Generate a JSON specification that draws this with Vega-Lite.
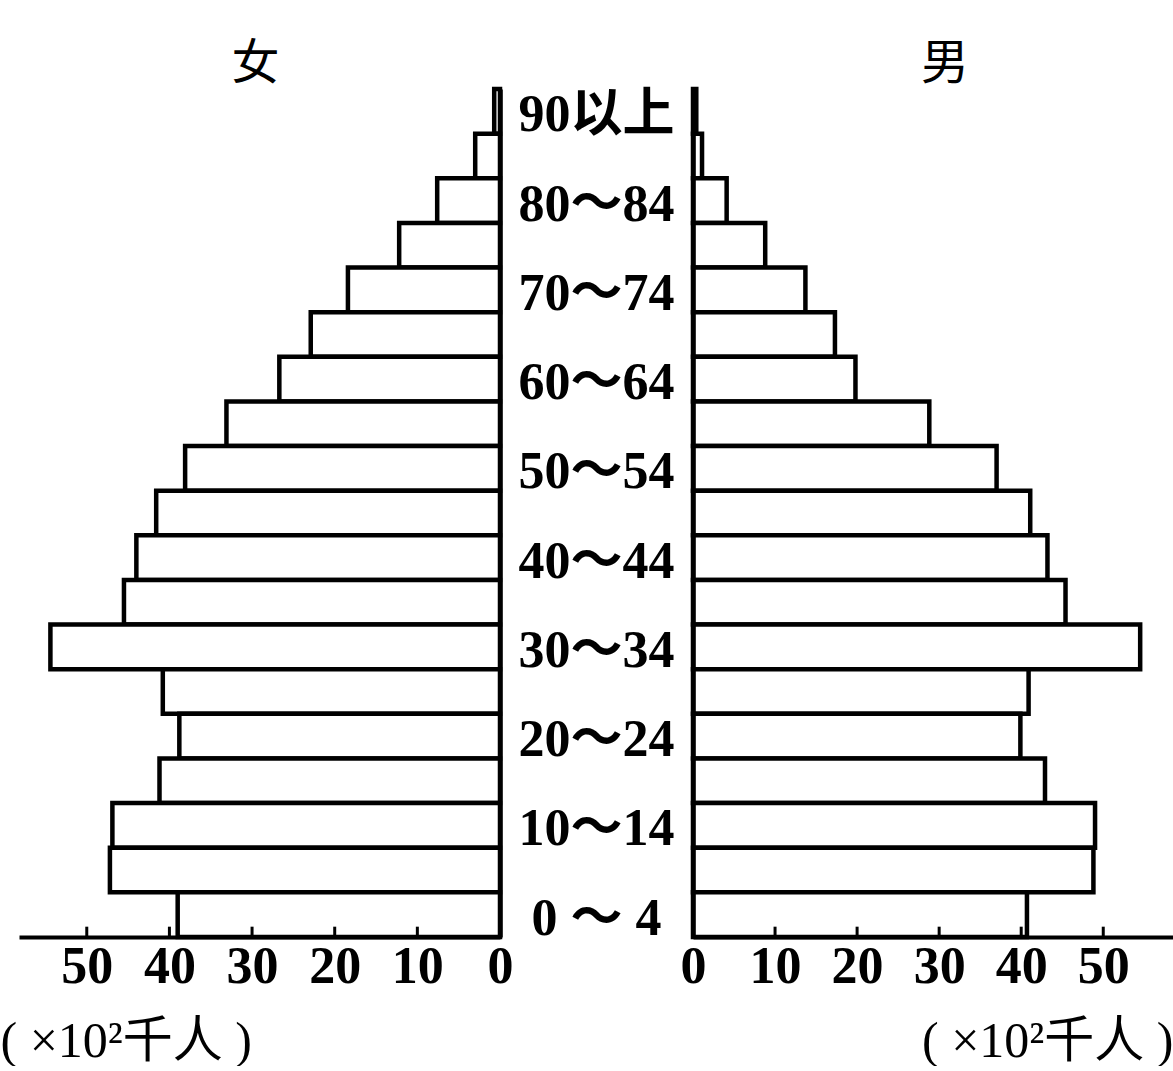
{
  "$schema": "https://vega.github.io/schema/vega-lite/v6.json",
  "padding": {"left": 0, "top": 40, "right": 0, "bottom": 0},
  "bounds": "flush",
  "spacing": 0,
  "background": "white",
  "config": {
    "view": {"stroke": null},
    "axis": {
      "domainColor": "black",
      "tickColor": "black",
      "labelColor": "black",
      "titleColor": "black",
      "grid": false
    }
  },
  "datasets": {
    "pop": [
      {"age": "90以上", "female": 0.7, "male": 0.4},
      {"age": "85～89", "female": 3.0, "male": 1.1},
      {"age": "80～84", "female": 7.6, "male": 4.1},
      {"age": "75～79", "female": 12.2, "male": 8.8},
      {"age": "70～74", "female": 18.4, "male": 13.7},
      {"age": "65～69", "female": 22.9, "male": 17.3},
      {"age": "60～64", "female": 26.7, "male": 19.8},
      {"age": "55～59", "female": 33.1, "male": 28.8},
      {"age": "50～54", "female": 38.1, "male": 37.0},
      {"age": "45～49", "female": 41.6, "male": 41.1},
      {"age": "40～44", "female": 44.0, "male": 43.2},
      {"age": "35～39", "female": 45.5, "male": 45.4},
      {"age": "30～34", "female": 54.4, "male": 54.5},
      {"age": "25～29", "female": 40.8, "male": 40.9},
      {"age": "20～24", "female": 38.8, "male": 39.9},
      {"age": "15～19", "female": 41.2, "male": 42.9},
      {"age": "10～14", "female": 46.9, "male": 49.0},
      {"age": "5～9", "female": 47.2, "male": 48.8},
      {"age": "0 ～ 4", "female": 39.0, "male": 40.7}
    ],
    "ticks": [
      {"tick": 10}, {"tick": 20}, {"tick": 30}, {"tick": 40}, {"tick": 50}
    ]
  },
  "hconcat": [
    {
      "width": 481,
      "height": 848,
      "title": {"text": "女", "fontSize": 48, "font": "Noto Sans CJK SC", "fontWeight": "normal", "color": "black", "offset": -2, "dx": -4},
      "layer": [
        {
          "data": {"name": "pop"},
          "mark": {"type": "bar", "fill": "white", "stroke": "black", "strokeWidth": 4.5},
          "encoding": {
            "y": {
              "field": "age", "type": "nominal", "sort": null,
              "scale": {"paddingInner": 0, "paddingOuter": 0},
              "axis": {"orient": "right", "labels": false, "ticks": false, "title": null, "domainWidth": 4.5, "zindex": 1}
            },
            "x": {
              "field": "female", "type": "quantitative",
              "scale": {"domain": [0, 58.2], "reverse": true, "nice": false, "zero": true},
              "axis": {
                "values": [0, 10, 20, 30, 40, 50], "zindex": 1,
                "domainWidth": 4, "ticks": false,
                "labelPadding": 4, "labelFont": "Liberation Serif", "labelFontWeight": "bold", "labelFontSize": 52,
                "labelFlush": false, "labelOverlap": false,
                "title": "( ×10²千人 )", "titleFont": "Liberation Serif, Noto Sans CJK SC", "titleFontWeight": "normal", "titleFontSize": 50,
                "titleAnchor": "start", "titleAlign": "left", "titleX": -19, "titleY": 104, "titleBaseline": "middle"
              }
            }
          }
        },
        {
          "data": {"name": "ticks"},
          "mark": {"type": "tick", "orient": "vertical", "color": "black", "opacity": 1, "thickness": 3, "size": 10, "yOffset": 17},
          "encoding": {
            "x": {"field": "tick", "type": "quantitative"},
            "y": {"datum": "0 ～ 4", "type": "nominal"}
          }
        }
      ]
    },
    {
      "width": 193,
      "height": 848,
      "data": {"name": "pop"},
      "transform": [
        {"filter": {"field": "age", "oneOf": ["90以上", "80～84", "70～74", "60～64", "50～54", "40～44", "30～34", "20～24", "10～14", "0 ～ 4"]}}
      ],
      "mark": {"type": "text", "font": "Liberation Serif, Noto Sans CJK SC", "fontWeight": "bold", "fontSize": 52, "color": "black", "align": "center", "baseline": "middle", "dy": 4},
      "encoding": {
        "y": {
          "field": "age", "type": "nominal",
          "scale": {"domain": ["90以上", "85～89", "80～84", "75～79", "70～74", "65～69", "60～64", "55～59", "50～54", "45～49", "40～44", "35～39", "30～34", "25～29", "20～24", "15～19", "10～14", "5～9", "0 ～ 4"], "paddingInner": 0, "paddingOuter": 0},
          "axis": null
        },
        "text": {"field": "age"}
      }
    },
    {
      "width": 480,
      "height": 848,
      "title": {"text": "男", "fontSize": 48, "font": "Noto Sans CJK SC", "fontWeight": "normal", "color": "black", "offset": -2, "dx": 12},
      "layer": [
        {
          "data": {"name": "pop"},
          "mark": {"type": "bar", "fill": "white", "stroke": "black", "strokeWidth": 4.5},
          "encoding": {
            "y": {
              "field": "age", "type": "nominal", "sort": null,
              "scale": {"paddingInner": 0, "paddingOuter": 0},
              "axis": {"orient": "left", "labels": false, "ticks": false, "title": null, "domainWidth": 4.5, "zindex": 1}
            },
            "x": {
              "field": "male", "type": "quantitative",
              "scale": {"domain": [0, 58.5], "nice": false, "zero": true},
              "axis": {
                "values": [0, 10, 20, 30, 40, 50], "zindex": 1,
                "domainWidth": 4, "ticks": false,
                "labelPadding": 4, "labelFont": "Liberation Serif", "labelFontWeight": "bold", "labelFontSize": 52,
                "labelFlush": false, "labelOverlap": false,
                "title": "( ×10²千人 )", "titleFont": "Liberation Serif, Noto Sans CJK SC", "titleFontWeight": "normal", "titleFontSize": 50,
                "titleAnchor": "end", "titleAlign": "right", "titleX": 480, "titleY": 104, "titleBaseline": "middle"
              }
            }
          }
        },
        {
          "data": {"name": "ticks"},
          "mark": {"type": "tick", "orient": "vertical", "color": "black", "opacity": 1, "thickness": 3, "size": 10, "yOffset": 17},
          "encoding": {
            "x": {"field": "tick", "type": "quantitative"},
            "y": {"datum": "0 ～ 4", "type": "nominal"}
          }
        }
      ]
    }
  ]
}
